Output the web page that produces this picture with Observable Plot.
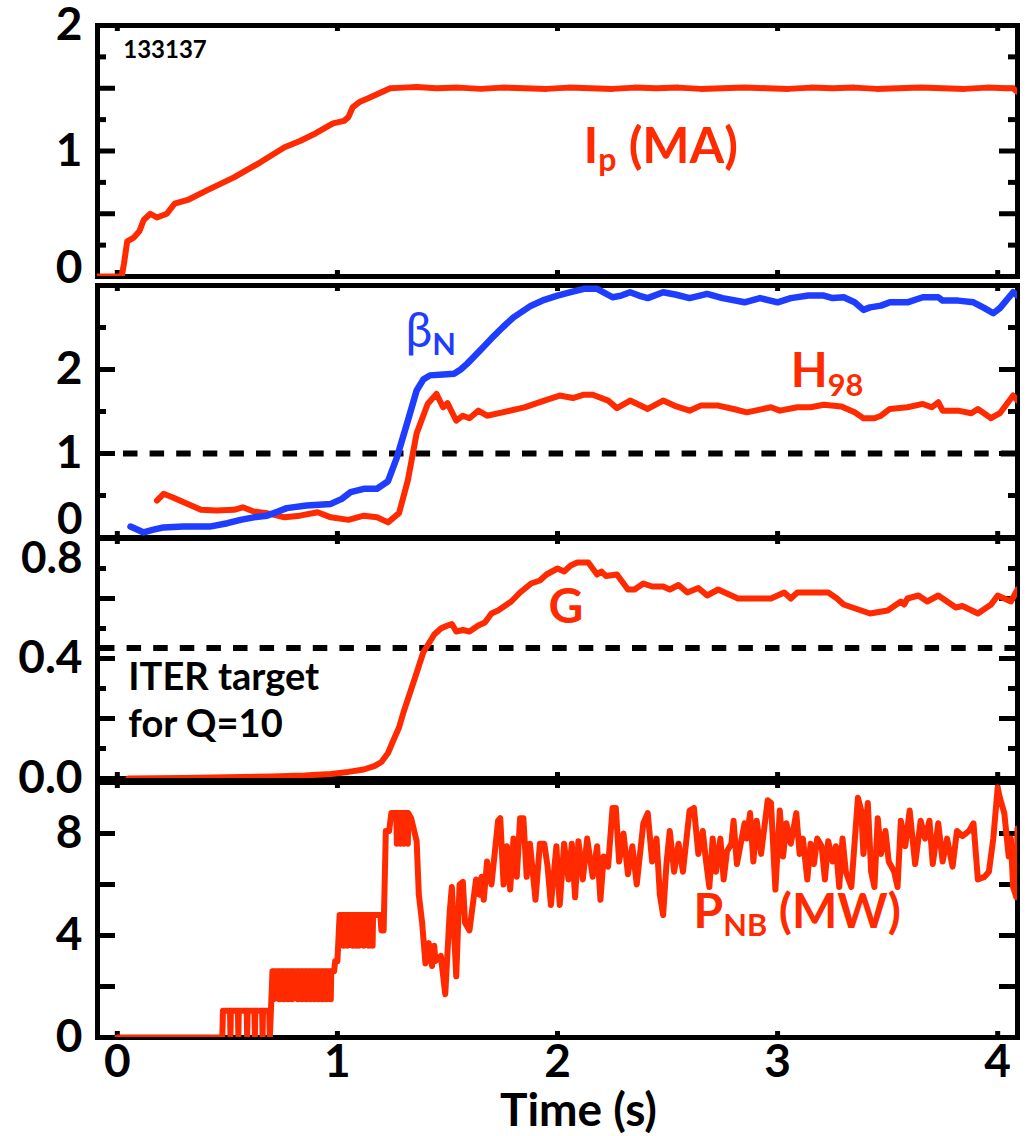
<!DOCTYPE html>
<html><head><meta charset="utf-8">
<script src="https://cdn.jsdelivr.net/npm/d3@7"></script>
<script src="https://cdn.jsdelivr.net/npm/@observablehq/plot@0.6"></script>
<style>
body{margin:0;background:#fff;}
#chart{position:relative;width:1026px;height:1136px;overflow:hidden;background:#fff;}
#chart svg{position:absolute;left:0;overflow:visible;background:transparent;}
</style></head><body><div id="chart"></div>
<script>
// ---------- data (time in s, value) ----------
const ipData = [[-0.09,0],[0.02,0],[0.03,0.1],[0.045,0.28],[0.075,0.31],[0.1,0.36],[0.12,0.45],[0.15,0.5],[0.18,0.47],[0.225,0.5],[0.26,0.58],[0.32,0.61],[0.4,0.68],[0.53,0.79],[0.65,0.91],[0.76,1.03],[0.83,1.08],[0.9,1.14],[0.98,1.22],[1.03,1.24],[1.05,1.27],[1.07,1.35],[1.1,1.39],[1.14,1.42],[1.19,1.46],[1.24,1.5],[1.3,1.505],[1.36,1.51],[1.45,1.5],[1.55,1.505],[1.65,1.495],[1.75,1.505],[1.85,1.5],[1.95,1.495],[2.05,1.505],[2.15,1.5],[2.25,1.495],[2.35,1.505],[2.45,1.5],[2.55,1.505],[2.65,1.495],[2.75,1.5],[2.85,1.505],[2.95,1.5],[3.05,1.495],[3.15,1.505],[3.25,1.5],[3.35,1.505],[3.45,1.495],[3.55,1.5],[3.65,1.505],[3.75,1.5],[3.85,1.495],[3.95,1.505],[4.04,1.5],[4.07,1.5],[4.09,1.47]];

const betaNData = [[0.06,0.13],[0.12,0.06],[0.16,0.09],[0.21,0.12],[0.3,0.13],[0.42,0.13],[0.5,0.17],[0.56,0.21],[0.62,0.24],[0.68,0.26],[0.73,0.31],[0.77,0.35],[0.86,0.38],[0.97,0.4],[1.02,0.46],[1.06,0.54],[1.12,0.58],[1.18,0.58],[1.23,0.67],[1.27,0.95],[1.32,1.39],[1.36,1.75],[1.39,1.88],[1.42,1.93],[1.48,1.94],[1.53,1.95],[1.56,2.0],[1.59,2.07],[1.66,2.26],[1.7,2.37],[1.75,2.5],[1.8,2.62],[1.88,2.76],[1.94,2.83],[2.0,2.88],[2.06,2.92],[2.12,2.96],[2.18,2.96],[2.25,2.86],[2.29,2.88],[2.33,2.92],[2.37,2.88],[2.41,2.85],[2.48,2.92],[2.54,2.89],[2.6,2.85],[2.68,2.9],[2.75,2.85],[2.85,2.8],[2.92,2.85],[3.0,2.8],[3.06,2.85],[3.14,2.88],[3.21,2.88],[3.25,2.85],[3.3,2.86],[3.35,2.8],[3.39,2.71],[3.42,2.74],[3.47,2.76],[3.51,2.8],[3.59,2.8],[3.66,2.86],[3.73,2.86],[3.75,2.82],[3.82,2.82],[3.89,2.8],[3.94,2.73],[3.98,2.67],[4.01,2.73],[4.07,2.92],[4.09,2.88]];

const h98Data = [[0.18,0.44],[0.21,0.52],[0.25,0.48],[0.32,0.4],[0.38,0.33],[0.45,0.32],[0.53,0.33],[0.57,0.36],[0.62,0.31],[0.68,0.29],[0.76,0.24],[0.83,0.26],[0.91,0.3],[0.97,0.24],[1.05,0.21],[1.12,0.26],[1.18,0.24],[1.23,0.18],[1.28,0.29],[1.32,0.68],[1.36,1.24],[1.41,1.59],[1.45,1.71],[1.48,1.55],[1.5,1.6],[1.54,1.39],[1.57,1.45],[1.6,1.42],[1.64,1.51],[1.68,1.45],[1.75,1.49],[1.85,1.55],[1.94,1.63],[2.01,1.69],[2.07,1.66],[2.12,1.7],[2.16,1.7],[2.23,1.63],[2.27,1.54],[2.33,1.63],[2.41,1.53],[2.48,1.63],[2.54,1.56],[2.6,1.51],[2.65,1.57],[2.73,1.57],[2.8,1.53],[2.86,1.49],[2.97,1.55],[3.01,1.51],[3.09,1.55],[3.15,1.55],[3.21,1.58],[3.29,1.56],[3.35,1.49],[3.39,1.42],[3.44,1.42],[3.47,1.45],[3.51,1.53],[3.59,1.55],[3.66,1.59],[3.7,1.55],[3.73,1.61],[3.75,1.51],[3.82,1.51],[3.88,1.48],[3.91,1.53],[3.97,1.42],[4.01,1.48],[4.07,1.69],[4.09,1.63]];

const gData = [[0.05,0],[0.3,0.002],[0.5,0.004],[0.7,0.007],[0.85,0.01],[0.97,0.015],[1.05,0.022],[1.12,0.03],[1.17,0.042],[1.2,0.055],[1.23,0.085],[1.25,0.12],[1.28,0.17],[1.3,0.22],[1.35,0.33],[1.39,0.42],[1.44,0.48],[1.47,0.5],[1.5,0.51],[1.52,0.515],[1.54,0.49],[1.57,0.495],[1.6,0.49],[1.64,0.51],[1.67,0.52],[1.7,0.55],[1.73,0.56],[1.79,0.59],[1.83,0.62],[1.88,0.65],[1.92,0.66],[1.95,0.68],[2.0,0.7],[2.03,0.69],[2.06,0.71],[2.09,0.72],[2.14,0.72],[2.18,0.68],[2.2,0.69],[2.22,0.675],[2.27,0.68],[2.32,0.63],[2.35,0.63],[2.39,0.65],[2.43,0.64],[2.48,0.64],[2.51,0.63],[2.55,0.645],[2.59,0.62],[2.64,0.635],[2.68,0.61],[2.73,0.63],[2.82,0.6],[2.91,0.6],[2.97,0.6],[3.03,0.62],[3.06,0.6],[3.09,0.62],[3.15,0.62],[3.23,0.62],[3.27,0.6],[3.3,0.58],[3.38,0.56],[3.42,0.55],[3.5,0.56],[3.56,0.59],[3.575,0.58],[3.59,0.6],[3.64,0.61],[3.68,0.59],[3.73,0.61],[3.77,0.59],[3.81,0.57],[3.84,0.575],[3.91,0.55],[3.97,0.58],[4.0,0.61],[4.06,0.59],[4.09,0.63]];

const pnbData = [[0,0],[0.477,0],[0.48,1.05],[0.512,1.05],[0.514,0],[0.516,1.05],[0.548,1.05],[0.55,0],[0.552,1.05],[0.588,1.05],[0.59,0],[0.592,1.05],[0.623,1.05],[0.625,0],[0.627,1.05],[0.658,1.05],[0.66,0],[0.662,1.05],[0.69,1.05],[0.693,0],[0.7,1.5],[0.705,2.6],[0.708,2.6],[0.71,1.5],[0.712,2.6],[0.733,2.6],[0.735,1.5],[0.737,2.6],[0.753,2.6],[0.755,1.5],[0.757,2.6],[0.773,2.6],[0.775,1.5],[0.777,2.6],[0.793,2.6],[0.795,1.5],[0.797,2.6],[0.818,2.6],[0.82,1.5],[0.822,2.6],[0.838,2.6],[0.84,1.5],[0.842,2.6],[0.858,2.6],[0.86,1.5],[0.862,2.6],[0.875,2.6],[0.877,1.5],[0.879,2.6],[0.895,2.6],[0.897,1.5],[0.899,2.6],[0.912,2.6],[0.914,1.5],[0.916,2.6],[0.93,2.6],[0.932,1.5],[0.934,2.6],[0.948,2.6],[0.95,1.5],[0.952,2.6],[0.968,2.6],[0.97,1.5],[0.972,2.6],[0.985,2.6],[0.99,3.0],[1.0,3.0],[1.01,4.8],[1.025,4.8],[1.027,3.6],[1.029,4.8],[1.043,4.8],[1.045,3.6],[1.047,4.8],[1.068,4.8],[1.07,3.6],[1.072,4.8],[1.083,4.8],[1.085,3.6],[1.087,4.8],[1.095,4.8],[1.097,3.6],[1.099,4.8],[1.118,4.8],[1.12,3.6],[1.122,4.8],[1.14,4.8],[1.142,3.6],[1.144,4.8],[1.158,4.8],[1.16,3.6],[1.162,4.8],[1.195,4.8],[1.2,4.2],[1.21,4.2],[1.22,8.1],[1.235,8.1],[1.245,8.8],[1.268,8.8],[1.27,7.6],[1.272,8.8],[1.285,8.8],[1.287,7.6],[1.289,8.8],[1.3,8.8],[1.302,7.6],[1.304,8.8],[1.318,8.8],[1.32,7.6],[1.322,8.8],[1.335,8.6],[1.36,7.7],[1.37,5.6],[1.385,4.5],[1.4,2.9],[1.415,3.7],[1.43,2.8],[1.44,3.6],[1.445,3.0],[1.47,3.2],[1.49,1.7],[1.51,4.9],[1.52,5.9],[1.54,2.4],[1.555,6.0],[1.57,6.1],[1.58,4.5],[1.6,4.2],[1.63,6.2],[1.645,5.6],[1.655,6.3],[1.665,5.4],[1.68,6.9],[1.7,6.0],[1.73,8.5],[1.74,8.6],[1.755,6.0],[1.77,7.5],[1.785,5.8],[1.8,7.8],[1.815,6.3],[1.83,8.6],[1.845,8.6],[1.86,6.3],[1.875,7.6],[1.9,5.4],[1.92,7.6],[1.94,7.6],[1.955,6.7],[1.97,5.2],[1.995,7.5],[2.01,5.2],[2.03,7.6],[2.05,6.2],[2.065,7.6],[2.08,5.5],[2.095,7.7],[2.115,6.2],[2.135,7.8],[2.16,6.3],[2.18,7.5],[2.195,5.4],[2.21,7.1],[2.23,6.7],[2.25,9.0],[2.265,9.0],[2.28,6.9],[2.3,8.0],[2.32,6.4],[2.34,7.5],[2.36,6.0],[2.39,8.4],[2.41,8.8],[2.43,6.9],[2.45,7.8],[2.465,5.6],[2.48,4.8],[2.495,6.8],[2.51,8.1],[2.53,6.5],[2.55,7.6],[2.57,6.5],[2.6,8.9],[2.62,9.0],[2.64,7.2],[2.66,8.1],[2.675,6.9],[2.69,5.9],[2.705,7.8],[2.72,6.5],[2.74,7.8],[2.755,6.2],[2.77,7.3],[2.79,7.6],[2.8,8.5],[2.815,6.8],[2.85,8.4],[2.86,7.8],[2.875,8.8],[2.89,6.9],[2.905,8.5],[2.925,7.2],[2.955,9.3],[2.97,9.2],[2.99,5.8],[3.01,8.9],[3.025,7.1],[3.04,8.4],[3.06,7.6],[3.085,8.8],[3.1,7.2],[3.115,7.8],[3.135,6.2],[3.15,7.6],[3.165,6.8],[3.18,7.8],[3.2,7.5],[3.215,6.2],[3.23,7.7],[3.25,6.9],[3.265,7.5],[3.28,5.9],[3.295,7.8],[3.31,6.5],[3.335,5.9],[3.365,9.4],[3.38,8.9],[3.39,7.2],[3.41,9.2],[3.425,6.5],[3.44,5.9],[3.455,8.6],[3.47,7.2],[3.49,8.1],[3.505,6.9],[3.53,6.5],[3.545,5.9],[3.56,8.5],[3.58,7.5],[3.6,8.9],[3.625,6.8],[3.65,8.5],[3.67,7.8],[3.69,8.5],[3.705,6.8],[3.73,8.4],[3.75,6.9],[3.77,7.8],[3.795,6.7],[3.815,8.1],[3.84,7.9],[3.87,8.1],[3.89,8.4],[3.91,6.2],[3.94,6.3],[3.96,6.5],[3.98,7.8],[4.0,9.8],[4.01,9.4],[4.03,8.8],[4.05,7.1],[4.06,7.8],[4.07,5.9],[4.085,5.5],[4.09,8.2]];

const refH98 = 1.0;        // dashed reference, panel 2
const iterTargetG = 0.435; // dashed ITER target, panel 3

// tick values
const xTicks = [0, 1, 2, 3, 4];
const ipLabels = [0, 1, 2], ipMajor = [0.5, 1, 1.5], ipMinor = [0.25, 0.75, 1.25, 1.75];
const p2Labels = [0, 1, 2], p2Major = [1, 2], p2Minor = [0.5, 1.5, 2.5];
const gLabels = [0, 0.4, 0.8], gMajor = [0.2, 0.4, 0.6], gMinor = [0.1, 0.3, 0.5, 0.7];
const pnbLabels = [0, 4, 8], pnbMajor = [2, 4, 6, 8], pnbMinor = [];

// ---------- layout ----------
const W = 1026, L = 97, R = 9, IW = W - L - R;
const RED = "#ff2a00", BLUE = "#1f3dff";
const FONT = "Lato, 'Open Sans', sans-serif";
const LBL = 46;
const intFmt = d => String(d);
const chart = document.getElementById("chart");

function subscripts(svg) {
  d3.select(svg).selectAll("text").each(function () {
    const s = this.textContent;
    if (!s.includes("_{")) return;
    const F = parseFloat(getComputedStyle(this).fontSize);
    const el = d3.select(this); el.text(null);
    const re = /_\{([^}]*)\}/g; let last = 0, m, shifted = false;
    while ((m = re.exec(s))) {
      if (m.index > last) {
        const t = el.append("tspan").text(s.slice(last, m.index));
        if (shifted) t.attr("dy", -0.17 * F);
        shifted = false;
      }
      el.append("tspan").attr("font-size", 0.64 * F).attr("font-weight", "bold").attr("dy", shifted ? 0 : 0.17 * F).text(m[1]);
      shifted = true; last = re.lastIndex;
    }
    if (last < s.length) {
      const t = el.append("tspan").text(s.slice(last));
      if (shifted) t.attr("dy", -0.17 * F);
    }
  });
}

function panel({top, bottom, y, marks, mb = 12}) {
  const mt = 12, h = bottom - top + mt + mb;
  const innerH = bottom - top;
  const svg = Plot.plot({
    width: W, height: h, marginLeft: L, marginRight: R, marginTop: mt, marginBottom: mb,
    x: {domain: [-0.09, 4.09], axis: null},
    y: {domain: y, axis: null},
    style: {background: "transparent", overflow: "visible", fontFamily: FONT, fontWeight: "bold", color: "black"},
    marks: [
      Plot.frame({stroke: "black", strokeWidth: 5}),
      Plot.tickX(xTicks, {x: d => d, stroke: "black", strokeWidth: 5, insetBottom: innerH - 6}),
      Plot.tickX(xTicks, {x: d => d, stroke: "black", strokeWidth: 5, insetTop: innerH - 6}),
      ...marks
    ]
  });
  svg.style.top = (top - mt) + "px";
  chart.append(svg);
  subscripts(svg);
  return svg;
}

function yTicks(major, minor) {
  const tk = (vals, len, side) => Plot.tickY(vals, {y: d => d, stroke: "black", strokeWidth: 5,
    ...(side === "left" ? {insetRight: IW - len} : {insetLeft: IW - len})});
  const ms = [tk(major, 18, "left"), tk(major, 18, "right")];
  if (minor.length) ms.push(tk(minor, 9, "left"), tk(minor, 9, "right"));
  return ms;
}

function yAxis(vals, opts = {}) {
  return Plot.axisY({ticks: vals, anchor: "left", tickSize: 0, tickPadding: 15, fontSize: LBL, fontWeight: "bold", tickFormat: intFmt, ...opts});
}

const line = (data, color, w = 6) => Plot.line(data, {x: d => d[0], y: d => d[1], stroke: color, strokeWidth: w, strokeLinejoin: "round", clip: true});

// Panel 1: Ip
panel({top: 25, bottom: 276, y: [0, 2], marks: [
  ...yTicks(ipMajor, ipMinor),
  yAxis(ipLabels.filter(d => d !== 0)),
  yAxis([0], {dy: -8}),
  line(ipData, RED, 6),
  Plot.text(["133137"], {x: 0.027, y: 1.745, textAnchor: "start", lineAnchor: "bottom", fontSize: 24, fontWeight: "bold", fill: "black"}),
  Plot.text(["I_{p} (MA)"], {x: 2.118, y: 0.908, textAnchor: "start", lineAnchor: "bottom", fontSize: 50, fontWeight: "bold", fill: RED})
]});

// Panel 2: betaN, H98
panel({top: 285, bottom: 537, y: [0, 3], marks: [
  ...yTicks(p2Major, p2Minor),
  yAxis(p2Labels.filter(d => d !== 0)),
  yAxis([0], {dy: -18, fontSize: 44}),
  Plot.ruleY([refH98], {stroke: "black", strokeWidth: 6, strokeDasharray: "14.5,12.1", insetLeft: 26}),
  line(h98Data, RED, 6),
  line(betaNData, BLUE, 6.5),
  Plot.text(["β_{N}"], {x: 1.309, y: 2.27, textAnchor: "start", lineAnchor: "bottom", fontSize: 48, fontWeight: "normal", fill: BLUE}),
  Plot.text(["H_{98}"], {x: 3.06, y: 1.786, textAnchor: "start", lineAnchor: "bottom", fontSize: 48, fontWeight: "bold", fill: RED})
]});

// Panel 3: G
panel({top: 538, bottom: 778, y: [0, 0.8], marks: [
  ...yTicks(gMajor, gMinor),
  yAxis([0, 0.4], {tickFormat: d => d.toFixed(1)}),
  yAxis([0.8], {tickFormat: d => d.toFixed(1), dy: 20, fontSize: 44}),
  Plot.ruleY([iterTargetG], {stroke: "black", strokeWidth: 6, strokeDasharray: "14.5,12.1", insetLeft: 3}),
  line(gData, RED, 6),
  Plot.text(["G"], {x: 1.959, y: 0.52, textAnchor: "start", lineAnchor: "bottom", fontSize: 48, fontWeight: "bold", fill: RED}),
  Plot.text(["ITER target\nfor Q=10"], {x: 0.05, y: 0.137, textAnchor: "start", lineAnchor: "bottom", lineHeight: 1.24, fontSize: 38, fontWeight: "bold", fill: "black"})
]});

// Panel 4: PNB
panel({top: 782, bottom: 1037, y: [0, 10], mb: 99, marks: [
  ...yTicks(pnbMajor, pnbMinor),
  yAxis(pnbLabels),
  Plot.axisX({ticks: xTicks, anchor: "bottom", tickSize: 0, tickPadding: 7, fontSize: LBL, fontWeight: "bold", tickFormat: intFmt}),
  Plot.text(["Time (s)"], {frameAnchor: "bottom", dx: 21, dy: 74, lineAnchor: "middle", fontSize: 46, fontWeight: "bold", fill: "black"}),
  line(pnbData, RED, 6),
  Plot.text(["P_{NB} (MW)"], {x: 2.618, y: 4.31, textAnchor: "start", lineAnchor: "bottom", fontSize: 48, fontWeight: "bold", fill: RED})
]});
</script></body></html>
